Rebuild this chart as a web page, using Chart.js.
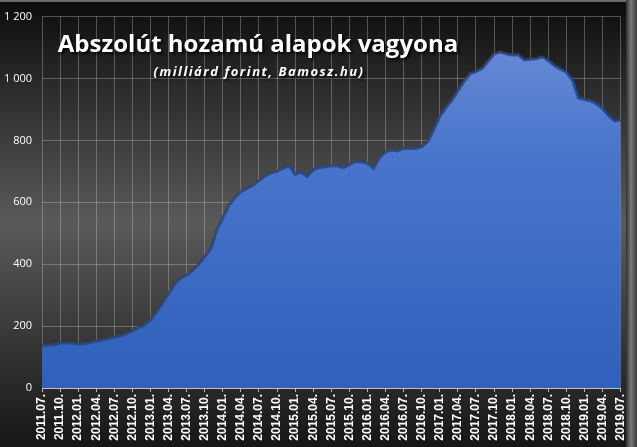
<!DOCTYPE html>
<html><head><meta charset="utf-8">
<script src="https://cdn.jsdelivr.net/npm/chart.js@4/dist/chart.umd.min.js"></script>
<style>html,body{margin:0;padding:0;background:#000;}#wrap{width:637px;height:447px;position:relative;}</style>
</head><body><div id="wrap"><canvas id="c" width="637" height="447"></canvas></div>
<script>
const startYear = 2011, startMonth = 7, monthCount = 97;
const months = [];
for (let i = 0; i < monthCount; i++) {
  const m = (startMonth - 1 + i) % 12 + 1;
  const y = startYear + Math.floor((startMonth - 1 + i) / 12);
  months.push(y + '.' + String(m).padStart(2, '0') + '.');
}
const assets = [138,138,140,145,145,145,142,143,147,152,155,160,164,169,175,185,195,203,220,245,275,305,335,355,365,380,400,425,450,510,550,590,615,635,645,655,670,685,695,700,710,718,690,697,683,705,712,715,718,718,712,722,732,730,726,710,745,762,769,766,774,775,774,780,796,835,878,905,930,960,990,1015,1022,1032,1055,1079,1086,1080,1076,1077,1060,1062,1064,1070,1058,1042,1031,1020,995,937,932,928,918,903,880,863,865];
const yTicks = [0,200,400,600,800,1000,1200];
const titleText = 'Abszolút hozamú alapok vagyona';
const subtitleText = '(milliárd forint, Bamosz.hu)';

const bgPlugin = {
  id: 'bg',
  beforeDraw(chart) {
    const {ctx, width, height} = chart;
    const g = ctx.createLinearGradient(0, 0, 0, height);
    g.addColorStop(0, '#0c0c0c');
    g.addColorStop(0.5, '#5a5a5a');
    g.addColorStop(1, '#161616');
    ctx.save();
    ctx.fillStyle = g;
    ctx.fillRect(0, 0, width, height);
    ctx.fillStyle = '#6a6a6a';
    ctx.fillRect(0, 0, width, 2);
    const g2 = ctx.createLinearGradient(width - 12, 0, width, 0);
    g2.addColorStop(0, '#202020');
    g2.addColorStop(0.5, '#7a7a7a');
    g2.addColorStop(1, '#3a3a3a');
    ctx.fillStyle = g2;
    ctx.fillRect(width - 11, 0, 11, height);
    ctx.restore();
  },
  afterDraw(chart) {
    const {ctx} = chart;
    ctx.save();
    ctx.textAlign = 'center';
    ctx.textBaseline = 'middle';
    ctx.shadowColor = 'rgba(0,0,0,0.9)';
    ctx.shadowBlur = 3;
    ctx.shadowOffsetX = 2;
    ctx.shadowOffsetY = 2;
    ctx.fillStyle = '#ffffff';
    ctx.font = 'bold 24px "Open Sans", sans-serif';
    ctx.fillText(titleText, 258, 45);
    ctx.font = 'italic bold 13px "Open Sans", sans-serif';
    ctx.letterSpacing = '1.5px';
    ctx.fillText(subtitleText, 259, 72);
    ctx.restore();
  }
};

const ctx = document.getElementById('c').getContext('2d');
new Chart(ctx, {
  type: 'line',
  data: {
    labels: months,
    datasets: [{
      data: assets,
      fill: 'origin',
      pointRadius: 0,
      tension: 0,
      borderWidth: 3,
      borderColor: 'rgba(38,70,135,0.85)',
      backgroundColor: (c) => {
        const a = c.chart.chartArea;
        if (!a) return '#3a6ac8';
        const g = c.chart.ctx.createLinearGradient(0, a.top, 0, a.bottom);
        g.addColorStop(0, '#6f90d8');
        g.addColorStop(0.35, '#4a76cc');
        g.addColorStop(1, '#2f60bb');
        return g;
      }
    }]
  },
  options: {
    responsive: false,
    animation: false,
    layout: {padding: {top: 14, right: 13, left: 0, bottom: 0}},
    plugins: {legend: {display: false}, tooltip: {enabled: false}, title: {display: false}},
    scales: {
      x: {
        offset: false,
        afterFit(s) { s.height = 59; },
        grid: {color: 'rgba(200,200,200,0.35)', lineWidth: 1, drawTicks: true, tickLength: 4, tickColor: 'rgba(220,220,220,0.8)'},
        border: {color: 'rgba(220,220,220,0.8)'},
        ticks: {
          autoSkip: false, maxRotation: 90, minRotation: 90, padding: 2,
          color: '#ffffff',
          font: {family: '"Liberation Sans", sans-serif', size: 12, weight: 'bold'},
          callback(v, i) { return i % 3 === 0 ? months[i] : null; }
        }
      },
      y: {
        min: 0, max: 1200,
        afterFit(s) { s.width = 42; },
        afterBuildTicks(s) { s.ticks = yTicks.map(v => ({value: v})); },
        grid: {color: 'rgba(200,200,200,0.35)', lineWidth: 1, drawTicks: false},
        border: {display: false},
        ticks: {
          padding: 10, color: '#ffffff',
          font: {family: '"Open Sans", sans-serif', size: 11},
          callback(v) { return String(v).replace(/\B(?=(\d{3})+(?!\d))/g, ' '); }
        }
      }
    }
  },
  plugins: [bgPlugin]
});
</script></body></html>
